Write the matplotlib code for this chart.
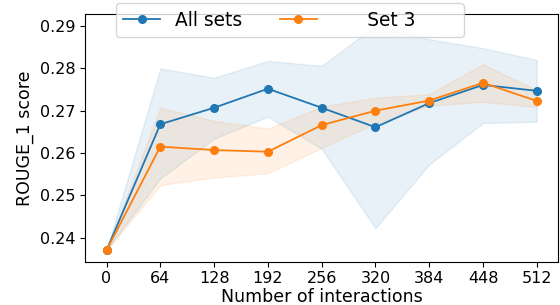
import matplotlib
matplotlib.use("Agg")
import matplotlib.pyplot as plt

# x positions (number of interactions)
interactions = [0, 64, 128, 192, 256, 320, 384, 448, 512]

# All sets: mean and band
all_mean = [0.2370, 0.2668, 0.2707, 0.2752, 0.2707, 0.2661, 0.2718, 0.2761, 0.2747]
all_upper = [0.2370, 0.2800, 0.2778, 0.2818, 0.2806, 0.2901, 0.2869, 0.2848, 0.2820]
all_lower = [0.2370, 0.2540, 0.2634, 0.2686, 0.2610, 0.2422, 0.2573, 0.2671, 0.2674]

# Set 3: mean and band
set3_mean = [0.2370, 0.2615, 0.2607, 0.2603, 0.2666, 0.2700, 0.2724, 0.2766, 0.2723]
set3_upper = [0.2370, 0.2707, 0.2676, 0.2658, 0.2710, 0.2731, 0.2739, 0.2810, 0.2748]
set3_lower = [0.2370, 0.2524, 0.2542, 0.2552, 0.2612, 0.2670, 0.2712, 0.2721, 0.2709]

fig = plt.figure(figsize=(5.6, 3.05), dpi=100)
ax = fig.add_axes([0.1518, 0.142, 0.8452, 0.8111])

ax.plot(interactions, all_mean, marker="o", color="C0", lw=1.3, ms=5.5, label="All sets")
ax.fill_between(interactions, all_lower, all_upper, color="C0", alpha=0.1)
ax.plot(interactions, set3_mean, marker="o", color="C1", lw=1.3, ms=5.5,
        label=" " * 6 + "Set 3" + " " * 7)
ax.fill_between(interactions, set3_lower, set3_upper, color="C1", alpha=0.1)

ax.set_xticks(interactions)
ax.set_ylim(0.2343, 0.2928)
ax.set_yticks([0.24, 0.25, 0.26, 0.27, 0.28, 0.29])
ax.tick_params(labelsize=11.5)
ax.set_xlabel("Number of interactions", fontsize=12.5, labelpad=1)
ax.set_ylabel("ROUGE_1 score", fontsize=12.5)

ax.legend(ncol=2, loc="upper left", bbox_to_anchor=(0.0649, 1.0445),
          borderaxespad=0, fontsize=13.4)

fig.savefig("out.png", dpi=100)
